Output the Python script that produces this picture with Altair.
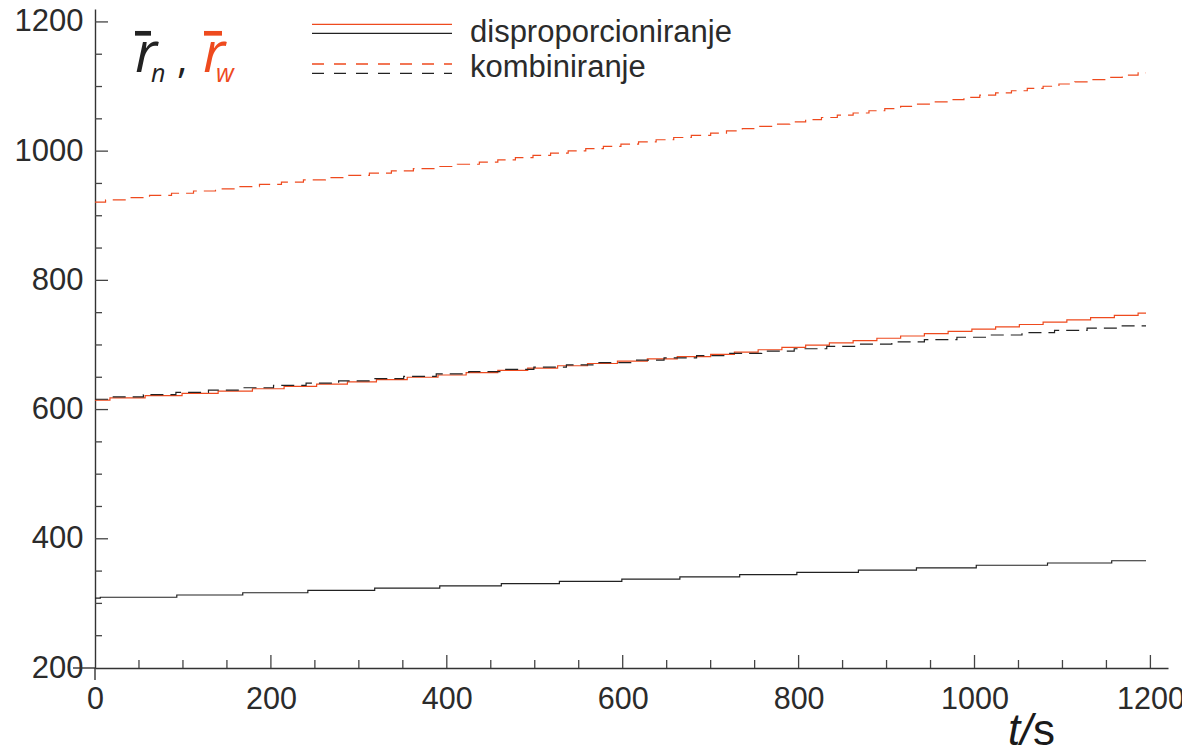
import altair as alt
import pandas as pd

# ---------------- data ----------------
# number-average, disproportionation (black solid)
t_n_disp = [0, 6, 93, 168, 242, 318, 392, 462, 528, 599, 665, 733, 798, 868, 934, 1002, 1083, 1156, 1195]
r_n_disp = [308.0, 309.5, 313.0, 316.5, 320.0, 323.5, 327.0, 330.5, 334.0, 337.5, 341.0, 344.5, 348.0,
            351.5, 355.0, 359.0, 362.5, 366.0, 366.0]

# weight-average, disproportionation (orange solid)
t_w_disp = [0, 17, 57, 99, 140, 179, 215, 252, 287, 320, 355, 390, 422, 458, 492, 526, 560, 594, 628, 662,
            700, 727, 754, 781, 808, 835, 862, 889, 916, 943, 970, 997, 1024, 1051, 1078, 1105, 1132, 1159,
            1186, 1195]
r_w_disp = [614.5, 618.0, 621.6, 625.2, 628.7, 632.2, 635.8, 639.4, 642.9, 646.5, 650.0, 653.5, 657.1,
            660.7, 664.2, 667.8, 671.3, 674.9, 678.4, 682.0, 685.5, 689.0, 692.6, 696.2, 699.7, 703.2,
            706.8, 710.4, 713.9, 717.5, 721.0, 724.5, 728.1, 731.7, 735.2, 738.8, 742.3, 745.9, 749.4, 749.4]

# number-average, combination (black dashed)
t_n_comb = [0, 18, 55, 92, 129, 166, 203, 240, 277, 314, 351, 388, 425, 462, 499, 536, 573, 610, 647, 684,
            721, 758, 795, 832, 869, 906, 943, 980, 1017, 1054, 1091, 1128, 1165, 1195]
r_n_comb = [616.0, 619.6, 623.1, 626.7, 630.2, 633.8, 637.3, 640.9, 644.4, 648.0, 651.5, 655.1, 658.6,
            662.2, 665.7, 669.3, 672.8, 676.4, 679.9, 683.5, 687.0, 690.6, 694.1, 697.7, 701.2, 704.8,
            708.3, 711.9, 715.4, 719.0, 722.5, 726.1, 729.6, 729.6]

# weight-average, combination (orange dashed)
t_w_comb = [0, 12, 37, 62, 87, 112, 137, 162, 187, 212, 237, 262, 287, 312, 337, 362, 387, 412, 437,
            458, 478, 498, 518, 538, 558, 578, 598, 618, 638, 658, 678,
            700, 718, 736, 754, 772, 790, 808, 826, 844, 862, 880, 898, 916, 934, 952, 970, 988, 1006,
            1024, 1042, 1060, 1078, 1096, 1114, 1132, 1150, 1168, 1186, 1195]
r_w_comb = [921.0, 924.5, 927.9, 931.4, 934.8, 938.3, 941.7, 945.2, 948.6, 952.1, 955.5, 959.0, 962.4,
            965.9, 969.3, 972.8, 976.2, 979.7, 983.1, 986.6, 990.0, 993.5, 996.9, 1000.4, 1003.8, 1007.3,
            1010.7, 1014.2, 1017.6, 1021.1, 1024.5, 1028.0, 1031.4, 1034.9, 1038.3, 1041.8, 1045.2,
            1048.7, 1052.1, 1055.6, 1059.0, 1062.5, 1065.9, 1069.4, 1072.8, 1076.3, 1079.7, 1083.2,
            1086.6, 1090.1, 1093.5, 1097.0, 1100.4, 1103.9, 1107.3, 1110.8, 1114.2, 1117.7, 1121.1, 1121.1]

x_major = [200, 400, 600, 800, 1000, 1200]
x_minor = [50, 100, 150, 250, 300, 350, 450, 500, 550, 650, 700, 750, 850, 900, 950, 1050, 1100, 1150]
x_labels = [0, 200, 400, 600, 800, 1000, 1200]
y_major = [400, 600, 800, 1000, 1200]
y_minor = [250, 300, 350, 450, 500, 550, 650, 700, 750, 850, 900, 950, 1050, 1100, 1150]
y_labels = [200, 400, 600, 800, 1000, 1200]

legend_labels = ["disproporcioniranje", "kombiniranje"]

# ---------------- styling ----------------
ORANGE = "#EE4A1E"
BLACK = "#222222"
AX = "#333333"
TXT = "#2b2b2b"
FONT = "Liberation Sans"
W, H = 1073, 659

xscale = alt.Scale(domain=[0, 1220], nice=False, zero=False)
yscale = alt.Scale(domain=[200, 1220], nice=False, zero=False)

xaxis = alt.Axis(values=x_labels, format="d", ticks=False, tickSize=0, grid=False, title=None,
                 labelFont=FONT, labelFontSize=30.5, labelColor=TXT, labelPadding=16,
                 labelFlush=False, labelOverlap=False, domainColor=AX, domainWidth=1.4)
yaxis = alt.Axis(values=y_labels, format="d", ticks=False, tickSize=0, grid=False, title=None,
                 labelFont=FONT, labelFontSize=31, labelColor=TXT, labelPadding=12,
                 labelFlush=False, labelOverlap=False, domainColor=AX, domainWidth=1.4)


def series(ts, vs, color, dash=None):
    df = pd.DataFrame({"t": ts, "r": vs})
    kw = {"strokeDash": dash} if dash else {}
    return alt.Chart(df).mark_line(interpolate="step-after", color=color, strokeWidth=1.2,
                                   clip=True, **kw).encode(
        x=alt.X("t:Q", scale=xscale, axis=xaxis),
        y=alt.Y("r:Q", scale=yscale, axis=yaxis),
    )


lines = [
    series(t_w_disp, r_w_disp, ORANGE),
    series(t_n_disp, r_n_disp, BLACK),
    series(t_w_comb, r_w_comb, ORANGE, [13, 7]),
    series(t_n_comb, r_n_comb, BLACK, [13, 7]),
]


def xticks(vals, length):
    return alt.Chart(pd.DataFrame({"t": vals})).mark_rule(color="#444444", strokeWidth=1.3).encode(
        x=alt.X("t:Q", scale=xscale, axis=xaxis), y=alt.value(H), y2=alt.value(H - length))


def yticks(vals, length):
    return alt.Chart(pd.DataFrame({"r": vals})).mark_rule(color="#444444", strokeWidth=1.3).encode(
        y=alt.Y("r:Q", scale=yscale, axis=yaxis), x=alt.value(0), x2=alt.value(length))


one = pd.DataFrame({"a": [0]})


def hrule(x1, x2, y, color, width=1.3, dash=None):
    kw = {"strokeDash": dash} if dash else {}
    return alt.Chart(one).mark_rule(color=color, strokeWidth=width, **kw).encode(
        x=alt.value(x1), x2=alt.value(x2), y=alt.value(y))


def vrule(x, y1, y2, color, width=1.4):
    return alt.Chart(one).mark_rule(color=color, strokeWidth=width).encode(
        x=alt.value(x), y=alt.value(y1), y2=alt.value(y2))


def text(s, x, y, size, color=TXT, style="normal", font=FONT):
    return alt.Chart(pd.DataFrame({"s": [s]})).mark_text(
        align="left", baseline="alphabetic", font=font, fontSize=size, fontStyle=style, color=color
    ).encode(text="s:N", x=alt.value(x), y=alt.value(y))


decor = [
    # axis overhangs (axes cross)
    hrule(-22, 0, H, AX, 1.4),
    vrule(0, H, H + 12, AX, 1.4),
    # legend
    hrule(217, 357, 15.3, ORANGE, 1.3),
    hrule(217, 357, 24.3, BLACK, 1.3),
    hrule(217, 357, 55, ORANGE, 1.3, [12, 10]),
    hrule(217, 357, 64.3, BLACK, 1.3, [12, 10]),
    text(legend_labels[0], 375, 32.7, 31),
    text(legend_labels[1], 375, 67.7, 31),
    # r_n , r_w label
    hrule(40, 56, 24.3, BLACK, 4.7),
    hrule(109, 127, 24.3, ORANGE, 4.7),
    text("r", 40, 62.7, 56, BLACK, "italic", "Open Sans"),
    text("n", 56, 72.7, 25, BLACK, "italic", "Open Sans"),
    text(",", 82, 64, 40, BLACK, "normal", "Open Sans"),
    text("r", 108, 62.7, 56, ORANGE, "italic", "Open Sans"),
    text("w", 121, 72.7, 25, ORANGE, "italic", "Open Sans"),
    # x axis title  t/s
    text("t/", 913, 736, 44, "#1a1a1a", "italic"),
    text("s", 938, 736, 44, "#1a1a1a", "normal"),
]

chart = alt.layer(
    *lines,
    xticks(x_minor, 8), xticks(x_major, 13),
    yticks(y_minor, 7), yticks(y_major, 13),
    *decor,
).properties(
    width=W, height=H,
    padding={"left": 87, "top": 1, "right": 14, "bottom": 79},
    autosize=alt.AutoSizeParams(type="none"),
    background="white",
).configure_view(stroke=None)

chart.save("out.html", embed_options={"renderer": "svg", "actions": False})
